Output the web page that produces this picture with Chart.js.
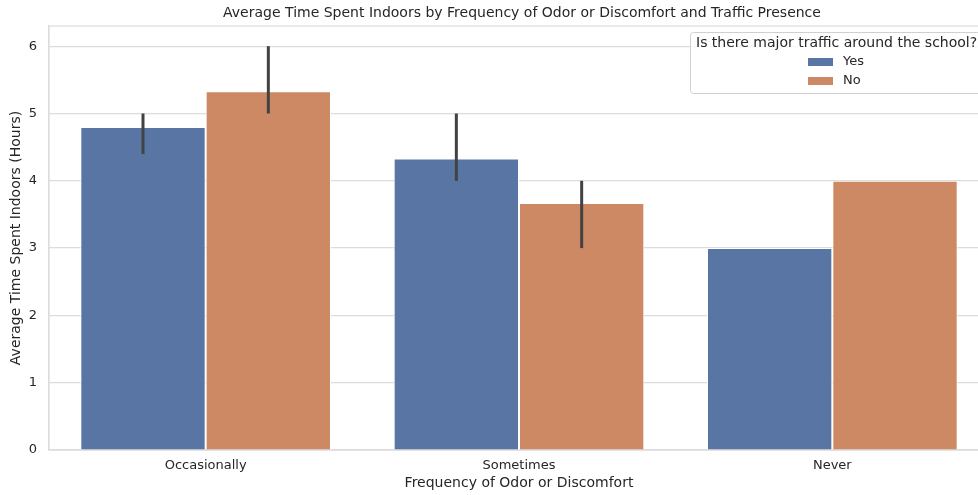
<!DOCTYPE html>
<html>
<head>
<meta charset="utf-8">
<script src="https://cdn.jsdelivr.net/npm/chart.js@4/dist/chart.umd.min.js"></script>
<style>
    html, body { margin: 0; padding: 0; background: #ffffff; overflow: hidden; }
    #wrap { width: 978px; height: 495px; overflow: hidden; }
</style>
</head>
<body>
<div id="wrap"><canvas id="chart" width="1037" height="495"></canvas></div>
<script>
// categories and series
const categories = ["Occasionally", "Sometimes", "Never"];
const seriesNames = ["Yes", "No"];
const yesValues = [4.8, 4.33, 3.0];
const noValues = [5.33, 3.67, 4.0];
// error bar ends (null = no error bar)
const yesErrLow = [4.4, 4.0, null];
const yesErrHigh = [5.0, 5.0, null];
const noErrLow = [5.0, 3.0, null];
const noErrHigh = [6.0, 4.0, null];
const yTicks = [0, 1, 2, 3, 4, 5, 6];
const chartTitle = "Average Time Spent Indoors by Frequency of Odor or Discomfort and Traffic Presence";
const legendTitle = "Is there major traffic around the school?";

const colors = ["#5975a4", "#cc8963"];
const textColor = "#262626";
const gridColor = "#dcdcdc";
const fontFamily = "'DejaVu Sans', sans-serif";

const errorBars = {
    id: "errorBars",
    afterDatasetsDraw(chart) {
        const ctx = chart.ctx;
        const yScale = chart.scales.y;
        const errs = [[yesErrLow, yesErrHigh], [noErrLow, noErrHigh]];
        ctx.save();
        ctx.strokeStyle = "#424242";
        ctx.lineWidth = 3;
        chart.data.datasets.forEach(function (ds, i) {
            const meta = chart.getDatasetMeta(i);
            meta.data.forEach(function (bar, j) {
                const lo = errs[i][0][j];
                const hi = errs[i][1][j];
                if (lo === null || hi === null) return;
                ctx.beginPath();
                ctx.moveTo(bar.x, yScale.getPixelForValue(lo));
                ctx.lineTo(bar.x, yScale.getPixelForValue(hi));
                ctx.stroke();
            });
        });
        ctx.restore();
    }
};

// axes frame + title above the plot area
const frame = {
    id: "frame",
    beforeDatasetsDraw(chart) {
        const a = chart.chartArea;
        const ctx = chart.ctx;
        ctx.save();
        ctx.strokeStyle = gridColor;
        ctx.lineWidth = 1.2;
        ctx.strokeRect(a.left, a.top, a.right - a.left, a.bottom - a.top);
        ctx.fillStyle = textColor;
        ctx.font = "14px " + fontFamily;
        ctx.textAlign = "center";
        ctx.textBaseline = "middle";
        ctx.fillText(chartTitle, (a.left + a.right) / 2 + 3, 13);
        ctx.restore();
    }
};

const boxLegend = {
    id: "boxLegend",
    afterDraw(chart) {
        const a = chart.chartArea;
        const ctx = chart.ctx;
        const left = 690, top = 32, width = a.right - 7 - left, height = 61;
        ctx.save();
        ctx.fillStyle = "rgba(255,255,255,0.8)";
        ctx.strokeStyle = "#d0d0d0";
        ctx.lineWidth = 1;
        ctx.beginPath();
        ctx.roundRect(left + 0.5, top + 0.5, width, height, 3);
        ctx.fill();
        ctx.stroke();
        ctx.fillStyle = textColor;
        ctx.font = "14px " + fontFamily;
        ctx.textBaseline = "middle";
        ctx.textAlign = "left";
        ctx.fillText(legendTitle, 696, 43);
        ctx.font = "13px " + fontFamily;
        chart.data.datasets.forEach(function (ds, i) {
            const y = 62 + i * 19;
            ctx.fillStyle = ds.backgroundColor;
            ctx.fillRect(808, y - 4, 25, 8);
            ctx.fillStyle = textColor;
            ctx.fillText(ds.label, 843, y);
        });
        ctx.restore();
    }
};

new Chart(document.getElementById("chart"), {
    type: "bar",
    data: {
        labels: categories,
        datasets: [
            { label: seriesNames[0], data: yesValues, backgroundColor: colors[0], borderColor: "#ffffff", borderWidth: 1 },
            { label: seriesNames[1], data: noValues, backgroundColor: colors[1], borderColor: "#ffffff", borderWidth: 1 }
        ]
    },
    options: {
        responsive: false,
        animation: false,
        layout: { padding: { left: 0, right: 48, top: 26, bottom: 0 } },
        datasets: { bar: { categoryPercentage: 0.8, barPercentage: 1.0 } },
        plugins: {
            legend: { display: false },
            tooltip: { enabled: false },
            title: { display: false }
        },
        scales: {
            x: {
                grid: { display: false, drawTicks: false },
                border: { display: true, color: gridColor, width: 1.2 },
                ticks: { color: textColor, font: { family: fontFamily, size: 13 }, padding: 8 },
                title: {
                    display: true,
                    text: "Frequency of Odor or Discomfort",
                    color: textColor,
                    font: { family: fontFamily, size: 14 },
                    padding: { top: 0, bottom: 3 }
                },
                afterFit(scale) { scale.height = 45; }
            },
            y: {
                min: 0,
                max: 6.3,
                grid: { color: gridColor, lineWidth: 1.2, drawTicks: false },
                border: { display: true, color: gridColor, width: 1.2 },
                ticks: { stepSize: 1, color: textColor, font: { family: fontFamily, size: 13 }, padding: 12 },
                afterBuildTicks(scale) {
                    scale.ticks = yTicks.map(function (v) { return { value: v }; });
                },
                title: {
                    display: true,
                    text: "Average Time Spent Indoors (Hours)",
                    color: textColor,
                    font: { family: fontFamily, size: 14 },
                    padding: { top: 8, bottom: 0 }
                },
                afterFit(scale) { scale.width = 49; }
            }
        }
    },
    plugins: [frame, errorBars, boxLegend]
});
</script>
</body>
</html>
